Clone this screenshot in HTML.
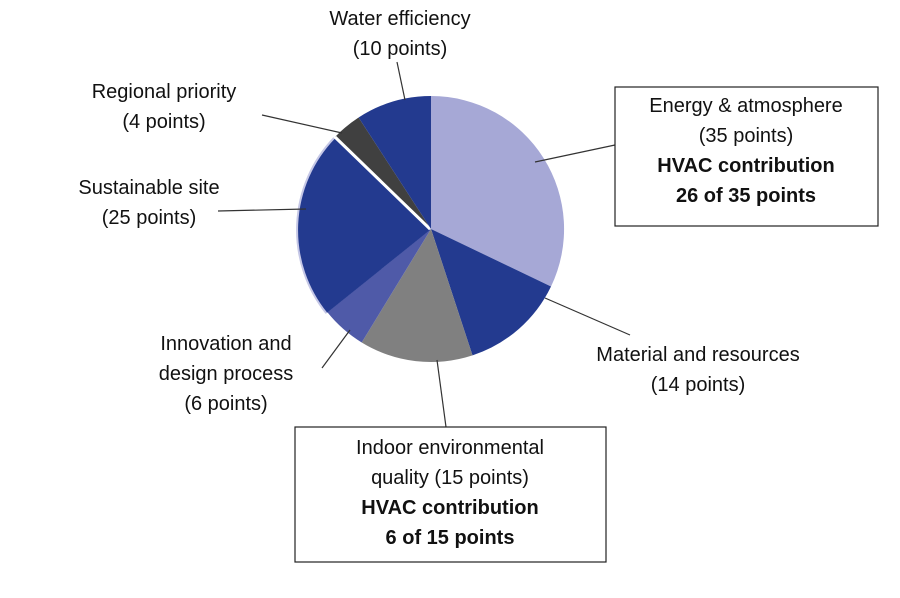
<!DOCTYPE html>
<html><head><style>
body{margin:0;background:#fff;}
svg text{font-family:"Liberation Sans",sans-serif;font-size:20px;fill:#111;}
.b{font-weight:bold;}
</style></head><body>
<svg width="900" height="593" viewBox="0 0 900 593" xmlns="http://www.w3.org/2000/svg">
<g>
<path d="M431,229 L431,96 A133,133 0 0 1 551,286.5 Z" fill="#a6a8d6"/>
<path d="M431,229 L551,286.5 A133,133 0 0 1 472.5,355.4 Z" fill="#233a8f"/>
<path d="M431,229 L472.5,355.4 A133,133 0 0 1 361.7,342.5 Z" fill="#808080"/>
<path d="M431,229 L361.7,342.5 A133,133 0 0 1 327.4,312.3 Z" fill="#4f5aa8"/>
<path d="M430,230 L326.4,313.3 A133,133 0 0 1 334,138 Z" fill="#233a8f"/>
<path d="M326.4,313.3 A133,133 0 0 1 334,138" fill="none" stroke="#c5c7e6" stroke-width="2"/>
<path d="M431,229 L335,137 A133,133 0 0 1 358.6,117.5 Z" fill="#404040"/>
<line x1="430" y1="229" x2="335" y2="137" stroke="#fff" stroke-width="3"/>
<path d="M431,229 L358.6,117.5 A133,133 0 0 1 431,96 Z" fill="#233a8f"/>
</g>
<g stroke="#333" stroke-width="1.2">
<line x1="405" y1="100" x2="397" y2="62"/>
<line x1="262" y1="115" x2="342" y2="133"/>
<line x1="535" y1="162" x2="615" y2="145"/>
<line x1="218" y1="211" x2="306" y2="209"/>
<line x1="545" y1="298" x2="630" y2="335"/>
<line x1="350" y1="330" x2="322" y2="368"/>
<line x1="437" y1="360" x2="446" y2="427"/>
</g>
<rect x="615" y="87" width="263" height="139" fill="none" stroke="#222" stroke-width="1.2"/>
<rect x="295" y="427" width="311" height="135" fill="none" stroke="#222" stroke-width="1.2"/>
<g text-anchor="middle">
<text x="400" y="25">Water efficiency</text>
<text x="400" y="55">(10 points)</text>
<text x="164" y="98">Regional priority</text>
<text x="164" y="128">(4 points)</text>
<text x="149" y="194">Sustainable site</text>
<text x="149" y="224">(25 points)</text>
<text x="746" y="112">Energy &amp; atmosphere</text>
<text x="746" y="142">(35 points)</text>
<text x="746" y="172" class="b">HVAC contribution</text>
<text x="746" y="202" class="b">26 of 35 points</text>
<text x="698" y="361">Material and resources</text>
<text x="698" y="391">(14 points)</text>
<text x="226" y="350">Innovation and</text>
<text x="226" y="380">design process</text>
<text x="226" y="410">(6 points)</text>
<text x="450" y="454">Indoor environmental</text>
<text x="450" y="484">quality (15 points)</text>
<text x="450" y="514" class="b">HVAC contribution</text>
<text x="450" y="544" class="b">6 of 15 points</text>
</g>
</svg>
</body></html>
